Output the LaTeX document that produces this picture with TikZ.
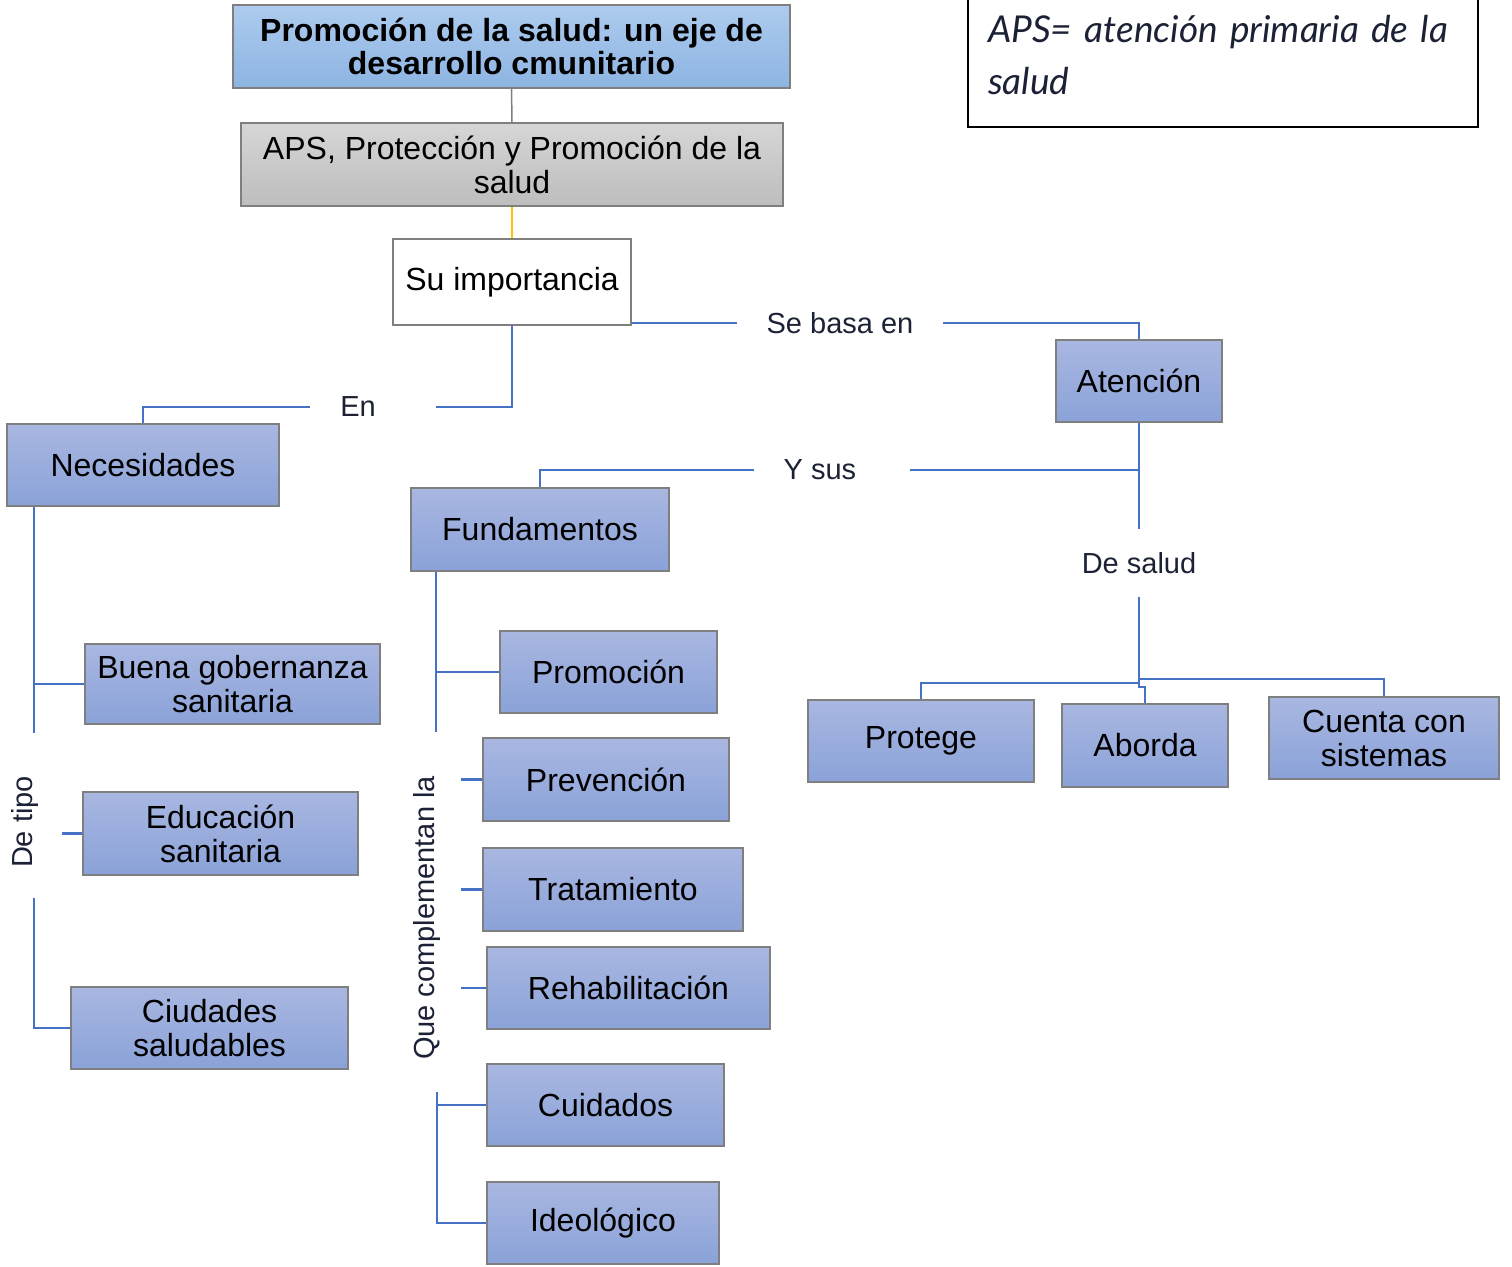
\documentclass[tikz,border=0pt]{standalone}
\usepackage{fontspec}
\setmainfont{Liberation Sans}
\newfontfamily\apsfont{Lato}
\usetikzlibrary{positioning}

\definecolor{azulA}{HTML}{A9B7E1}
\definecolor{azulB}{HTML}{8AA2D8}
\definecolor{celesteA}{HTML}{ADCBEE}
\definecolor{celesteB}{HTML}{8DB4E2}
\definecolor{grisA}{HTML}{D6D6D6}
\definecolor{grisB}{HTML}{BDBDBD}
\definecolor{bordecaja}{HTML}{7F7F7F}
\definecolor{linazul}{HTML}{4472C4}
\definecolor{linnaranja}{HTML}{FFC000}
\definecolor{textoosc}{HTML}{1B2235}

\tikzset{
  caja/.style={draw=bordecaja, line width=1.2pt, top color=azulA, bottom color=azulB,
    font=\fontsize{32}{34}\selectfont, align=center, inner sep=0pt},
  etiqueta/.style={font=\fontsize{29}{31}\selectfont, text=textoosc, inner ysep=0pt},
  linea/.style={draw=linazul, line width=2.6pt}
}

\begin{document}
\begin{tikzpicture}[x=1pt,y=-1pt]
\useasboundingbox (0,0) rectangle (1512,1266);

% cabecera
\node[caja, top color=celesteA, bottom color=celesteB, font=\fontsize{32}{33}\selectfont\bfseries,
      minimum width=557pt, minimum height=83pt] (titulo) at (511.5,46.5)
      {Promoción de la salud: un eje de\\desarrollo cmunitario};
\node[caja, top color=grisA, bottom color=grisB, minimum width=542pt, minimum height=83pt] (aps) at (512,164.5)
      {APS, Protección y Promoción de la\\salud};
\node[caja, fill=white, top color=white, bottom color=white, minimum width=238pt, minimum height=86pt] (su) at (512,282)
      {Su importancia};
\draw[bordecaja, line width=1.5pt] (titulo.south) -- (aps.north);
\draw[linnaranja, line width=1.5pt] (aps.south) -- (su.north);

% nota
\node[draw=black, line width=1.6pt, minimum width=510pt, minimum height=144pt, text width=470pt, align=left,
      font=\apsfont\itshape\fontsize{37}{52}\selectfont, text=textoosc] (nota) at (1223,55)
      {APS= atención primaria de la\\salud};

% rama derecha
\node[caja, minimum width=166pt, minimum height=82pt] (aten) at (1139,381) {Atención};
\node[etiqueta, inner xsep=29pt] (sebasa) at (840,323) {Se basa en};
\draw[linea] (su.east |- sebasa.west) -- (sebasa.west);
\draw[linea] (sebasa.east) -| (aten.north);

\node[etiqueta, inner ysep=23pt] (desalud) at (1139,563) {De salud};
\draw[linea] (aten.south) -- (desalud.north);
\coordinate (js) at (1139,681);
\draw[linea] (desalud.south) -- (js);

\node[caja, minimum width=226pt, minimum height=82pt] (prot) at (921,741) {Protege};
\node[caja, minimum width=166pt, minimum height=83pt] (abor) at (1145,745.5) {Aborda};
\node[caja, minimum width=230pt, minimum height=82pt] (cuenta) at (1384,738) {Cuenta con\\sistemas};
\draw[linea] (js) -- ++(0,2) -| (prot.north);
\draw[linea] (js) -- ++(0,-2) -| (cuenta.north);
\draw[linea] (js) -- ++(0,6) -| (abor.north);

% fundamentos
\node[caja, minimum width=258pt, minimum height=83pt] (fund) at (540,529.5) {Fundamentos};
\node[etiqueta, inner xsep=42pt] (ysus) at (820,470) {Y sus};
\coordinate (jy) at (aten.south |- ysus.east);
\draw[linea] (jy) -- ([xshift=12pt]ysus.east);
\draw[linea] ([xshift=12pt]ysus.west) -| (fund.north);

\node[caja, minimum width=217pt, minimum height=82pt] (promo) at (608.5,672) {Promoción};
\node[caja, minimum width=246pt, minimum height=83pt] (prev) at (606,779.5) {Prevención};
\node[caja, minimum width=260pt, minimum height=83pt] (trat) at (613,889.5) {Tratamiento};
\node[caja, minimum width=283pt, minimum height=82pt] (rehab) at (628.5,988) {Rehabilitación};
\node[caja, minimum width=237pt, minimum height=82pt] (cuid) at (605.5,1105) {Cuidados};
\node[caja, minimum width=232pt, minimum height=82pt] (ideo) at (603,1223) {Ideológico};
\node[etiqueta, rotate=90] (quecomp) at (427,918) {Que complementan la};

\coordinate (qc1) at (436,732);
\coordinate (qc2) at (437,1092);
\draw[linea] (qc1 |- fund.south) -- (qc1);
\draw[linea] (promo.west) -- (promo.west -| qc1);
\foreach \n/\d in {prev/21,trat/21,rehab/25}
  \draw[linea] (\n.west) -- ++(-\d,0);
\draw[linea] (qc2) |- (ideo.west);
\draw[linea] (cuid.west) -- (cuid.west -| qc2);

% necesidades
\node[caja, minimum width=272pt, minimum height=82pt] (nec) at (143,465) {Necesidades};
\node[etiqueta, inner xsep=45pt] (en) at (358,407) {En};
\draw[linea] (su.south) |- ([xshift=15pt]en.east);
\draw[linea] ([xshift=15pt]en.west) -| (nec.north);

\node[caja, minimum width=295pt, minimum height=80pt] (buena) at (232.5,684) {Buena gobernanza\\sanitaria};
\node[caja, minimum width=275pt, minimum height=83pt] (edu) at (220.5,833.5) {Educación\\sanitaria};
\node[caja, minimum width=277pt, minimum height=82pt] (ciud) at (209.5,1028) {Ciudades\\saludables};
\node[etiqueta, rotate=90] (detipo) at (25,822) {De tipo};

\coordinate (dt1) at (34,733);
\coordinate (dt2) at (34,898);
\draw[linea] (dt1 |- nec.south) -- (dt1);
\draw[linea] (buena.west) -- (buena.west -| dt1);
\draw[linea] (edu.west) -- ++(-20,0);
\draw[linea] (dt2) |- (ciud.west);
\end{tikzpicture}
\end{document}
